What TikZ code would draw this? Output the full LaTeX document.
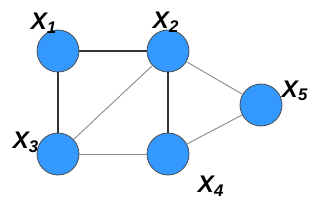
\documentclass[tikz,border=0pt]{standalone}
\usepackage{fontspec}
\setsansfont{Liberation Sans}
\begin{document}
\begin{tikzpicture}[
      x=0.75pt, y=-0.75pt,
      vtx/.style={circle, draw=black!70, fill=vblue, minimum size=31.5pt, inner sep=0pt, line width=0.6pt},
      lbl/.style={font=\sffamily\bfseries\itshape\fontsize{18}{18}\selectfont, inner sep=0pt},
      dark/.style={draw=black!80, line width=0.8pt},
      light/.style={draw=black!45, line width=0.7pt}]
    \definecolor{vblue}{HTML}{3399FF}
    \useasboundingbox (0,0) rectangle (317,203);

    \node[vtx] (x1) at (58,51) {};
    \node[vtx] (x2) at (168,51) {};
    \node[vtx] (x3) at (58,154) {};
    \node[vtx] (x4) at (168,154) {};
    \node[vtx] (x5) at (261,105) {};

    \node[lbl] (l1) at (44,23) {X\textsubscript{1}};
    \node[lbl] (l2) at (166,22) {X\textsubscript{2}};
    \node[lbl] (l3) at (26,142) {X\textsubscript{3}};
    \node[lbl] (l4) at (211,186) {X\textsubscript{4}};
    \node[lbl] (l5) at (295,91) {X\textsubscript{5}};

    \draw[dark] (x1) -- (x2);
    \draw[dark] (x1) -- (x3);
    \draw[dark] (x2) -- (x4);
    \draw[light] (x2) -- (x3);
    \draw[light] (x2) -- (x5);
    \draw[light] (x3) -- (x4);
    \draw[light] (x4) -- (x5);
  \end{tikzpicture}
\end{document}
